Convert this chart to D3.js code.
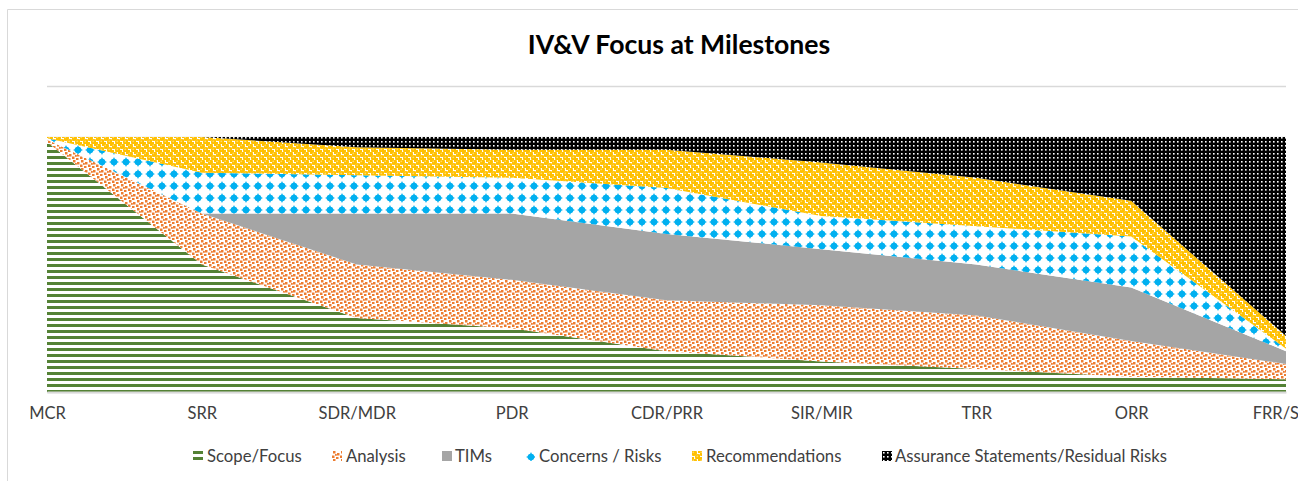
<!DOCTYPE html>
<html>
<head>
<meta charset="utf-8">
<script src="https://cdn.jsdelivr.net/npm/d3@7"></script>
<style>
  body { margin: 0; background: #fff; overflow: hidden; }
  svg { display: block; font-family: Lato, 'Noto Sans', sans-serif; }
</style>
</head>
<body>
<div id="chart"></div>
<script>
'use strict'
/* Datos */
var milestones = ['MCR', 'SRR', 'SDR/MDR', 'PDR', 'CDR/PRR', 'SIR/MIR', 'TRR', 'ORR', 'FRR/SAR'];
var seriesNames = ['Scope/Focus', 'Analysis', 'TIMs', 'Concerns / Risks', 'Recommendations', 'Assurance Statements/Residual Risks'];
var scopeFocus      = [98, 50, 29, 25, 16, 12,  9,  6,  5];
var analysis        = [ 1, 20, 21, 19, 20, 22, 21, 14,  6];
var tims            = [ 0,  0, 20, 26, 26, 22, 20, 21,  5];
var concerns        = [0.5, 16, 15, 14, 18, 13, 15, 20, 1];
var recommendations = [0.5, 14, 11, 11, 15, 21, 19, 14, 5];
var assurance       = [ 0,  0,  4,  5,  5, 10, 16, 25, 78];
var yTicks = [0, 20, 40, 60, 80, 100, 120];

var w = 1298;
var h = 481;
var plotLeft = 47, plotRight = 1286, plotTop = 86, plotBottom = 392;

var keys = ['scope', 'analysis', 'tims', 'concerns', 'rec', 'assur'];
var values = [scopeFocus, analysis, tims, concerns, recommendations, assurance];

// tabla para d3.stack
var tabla = milestones.map(function(m, i){
  var fila = { milestone: m };
  keys.forEach(function(k, j){ fila[k] = values[j][i]; });
  return fila;
});

var svg = d3.select('#chart')
            .append('svg')
            .attr('width', w)
            .attr('height', h);

/* Patrones de relleno */
var defs = svg.append('defs');

function patron(id, size){
  return defs.append('pattern')
             .attr('id', id)
             .attr('patternUnits', 'userSpaceOnUse')
             .attr('width', size)
             .attr('height', size);
}

// rayas verdes horizontales
var p1 = patron('pScope', 6);
p1.append('rect').attr('width', 6).attr('height', 6).attr('fill', '#fff');
p1.append('rect').attr('width', 6).attr('height', 3).attr('fill', '#548235');

// confeti naranja
var p2 = patron('pAnalysis', 8);
p2.append('rect').attr('width', 8).attr('height', 8).attr('fill', '#fff');
[[1, 0], [5, 2], [0, 4.5], [4, 6], [3, 3]].forEach(function(d, i){
  p2.append('rect').attr('x', d[0]).attr('y', d[1])
    .attr('width', i == 4 ? 1.8 : 2.5).attr('height', i == 4 ? 1.8 : 2.5)
    .attr('fill', '#ED7D31');
});

// rombos azules
var p4 = patron('pConcerns', 12);
p4.append('rect').attr('width', 12).attr('height', 12).attr('fill', '#fff');
p4.append('path').attr('d', 'M6,1 L7.6,4.4 L11,6 L7.6,7.6 L6,11 L4.4,7.6 L1,6 L4.4,4.4 Z').attr('fill', '#00B0F0');
p4.append('circle').attr('cx', 6).attr('cy', 6).attr('r', 3.3).attr('fill', '#00B0F0');

// esferas amarillas
var p5 = patron('pRec', 8);
p5.append('rect').attr('width', 8).attr('height', 8).attr('fill', '#fff');
[[2, 2], [6, 6]].forEach(function(d){
  p5.append('circle').attr('cx', d[0]).attr('cy', d[1]).attr('r', 3).attr('fill', '#FFC000');
  p5.append('circle').attr('cx', d[0] - 0.7).attr('cy', d[1] - 0.7).attr('r', 0.9).attr('fill', '#FFD966');
});
p5.append('rect').attr('x', 6).attr('y', 0).attr('width', 2).attr('height', 2).attr('fill', '#FFC000');
p5.append('rect').attr('x', 0).attr('y', 6).attr('width', 2).attr('height', 2).attr('fill', '#FFC000');

// negro con puntos blancos
var p6 = patron('pAssur', 4);
p6.append('rect').attr('width', 4).attr('height', 4).attr('fill', '#000');
p6.append('rect').attr('x', 1).attr('y', 1).attr('width', 1.6).attr('height', 1.6).attr('fill', '#fff');

var fills = ['url(#pScope)', 'url(#pAnalysis)', '#A5A5A5', 'url(#pConcerns)', 'url(#pRec)', 'url(#pAssur)'];

/* Marco del area del grafico */
svg.append('path')
   .attr('d', 'M7.5,' + h + ' V9.5 H' + w)
   .attr('fill', 'none')
   .attr('stroke', '#d9d9d9')
   .attr('stroke-width', 1);

/* Titulo */
svg.append('text')
   .attr('x', 679)
   .attr('y', 54)
   .attr('text-anchor', 'middle')
   .attr('font-size', 26.6)
   .attr('font-weight', 'bold')
   .attr('fill', '#000')
   .text('IV&V Focus at Milestones');

/* Escalas */
var xScale = d3.scalePoint()
               .domain(milestones)
               .range([plotLeft, plotRight]);
var yScale = d3.scaleLinear()
               .domain([0, 120])
               .range([plotBottom, plotTop]);

// lineas de cuadricula
svg.append('g')
   .attr('transform', 'translate(' + plotLeft + ',0)')
   .call(d3.axisLeft(yScale).tickValues(yTicks).tickSize(-(plotRight - plotLeft)).tickFormat(''))
   .call(function(g){
     g.select('.domain').remove();
     g.selectAll('line').attr('stroke', '#d9d9d9').attr('stroke-width', 1.5);
   });

/* Areas apiladas */
var series = d3.stack().keys(keys)(tabla);
var area = d3.area()
             .x(function(d){ return xScale(d.data.milestone); })
             .y0(function(d){ return yScale(d[0]); })
             .y1(function(d){ return yScale(d[1]); });

svg.append('g')
   .selectAll('path')
   .data(series)
   .enter()
   .append('path')
   .attr('d', area)
   .attr('fill', function(d, i){ return fills[i]; });

/* Eje X */
svg.append('g')
   .attr('transform', 'translate(0,' + plotBottom + ')')
   .call(d3.axisBottom(xScale).tickSize(0).tickSizeOuter(0).tickPadding(15))
   .call(function(g){
     g.select('.domain').attr('stroke', '#d9d9d9').attr('stroke-width', 2);
     g.selectAll('text')
      .attr('font-family', 'Lato, sans-serif')
      .attr('font-size', 16.5)
      .attr('fill', '#404040');
   });

/* Leyenda */
var legendX = [193, 332, 442, 525, 692, 882];
var leyenda = svg.append('g')
                 .selectAll('g')
                 .data(seriesNames)
                 .enter()
                 .append('g')
                 .attr('transform', function(d, i){ return 'translate(' + legendX[i] + ',451)'; });
leyenda.append('rect')
       .attr('width', 10)
       .attr('height', 10)
       .attr('fill', function(d, i){ return fills[i]; });
leyenda.append('text')
       .attr('x', function(d, i){ return i == 2 ? 13 : (i == 5 ? 13 : 14); })
       .attr('y', 5)
       .attr('dy', '0.35em')
       .attr('font-size', 16.7)
       .attr('fill', '#404040')
       .text(function(d){ return d; });
</script>
</body>
</html>
